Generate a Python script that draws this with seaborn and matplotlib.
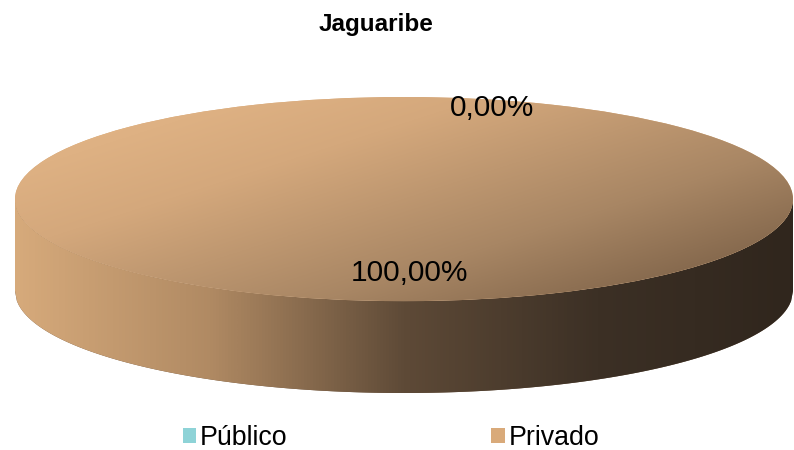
import numpy as np
import matplotlib
matplotlib.use('Agg')
import matplotlib.pyplot as plt
import seaborn as sns
from matplotlib.colors import LinearSegmentedColormap

sns.set_theme(style='white')
plt.rcParams['font.family'] = ['Liberation Sans', 'DejaVu Sans']
plt.rcParams['text.color'] = 'black'

# data
title = 'Jaguaribe'
labels = ['Público', 'Privado']
values = [0.0, 100.0]
colors = ['#8ED3D7', '#D9AA7A']


def fmt(p):
    return f'{p:.2f}%'.replace('.', ',')


fig = plt.figure(figsize=(7.94, 4.5), dpi=100)
ax = fig.add_axes([15 / 794, 57 / 450, 778 / 794, 296 / 450])

wedges, texts, autotexts = ax.pie(
    values, colors=colors, startangle=90, counterclock=False,
    autopct=fmt, pctdistance=0.725,
    wedgeprops=dict(linewidth=0, zorder=3),
    textprops=dict(fontsize=21.5, color='black'))

depth = 0.9

# side of the 3d disc
xs = np.linspace(-1, 1, 400)
arc = -np.sqrt(1 - xs ** 2)
side = ax.fill(np.concatenate([xs, xs[::-1]]),
               np.concatenate([arc, arc[::-1] - depth]),
               color='#6b5440', lw=0, zorder=1)[0]
side_cmap = LinearSegmentedColormap.from_list(
    'side', ['#D6AA7B', '#B08a63', '#5E4A37', '#3C3025', '#30261D'])
grad = np.linspace(0, 1, 256).reshape(1, -1)
im = ax.imshow(grad, cmap=side_cmap, extent=[-1, 1, -1 - depth, 0],
               aspect='auto', zorder=2, interpolation='bicubic')
im.set_clip_path(side)

# shaded top face
U, V = np.meshgrid(np.linspace(0, 1, 300), np.linspace(0, 1, 300))
T = 0.55 * U + 0.45 * V
top_cmap = LinearSegmentedColormap.from_list(
    'top', ['#E8BA8A', '#D4A87C', '#A88664', '#6E553E'])
im2 = ax.imshow(T, cmap=top_cmap, extent=[-1, 1, -1, 1], aspect='auto',
                zorder=4, vmin=0, vmax=1, interpolation='bicubic')
im2.set_clip_path(wedges[1])

for t in autotexts:
    t.set_zorder(6)
autotexts[0].set_position((0.226, 0.89))
autotexts[1].set_position((0.015, -0.725))

ax.set_aspect('auto')
ax.set_xlim(-1, 1)
ax.set_ylim(-1 - depth, 1)
ax.axis('off')

fig.text(376 / 794, 1 - 25 / 450, title, ha='center', va='center',
         fontsize=17.5, fontweight='bold')

fig.legend(wedges, labels, loc='center', bbox_to_anchor=(391 / 794, 1 - 438 / 450),
           ncol=2, frameon=False, fontsize=19.3, handlelength=0.5, handleheight=0.5,
           handletextpad=0.15, columnspacing=7.6)

fig.savefig('out.png', dpi=100)
